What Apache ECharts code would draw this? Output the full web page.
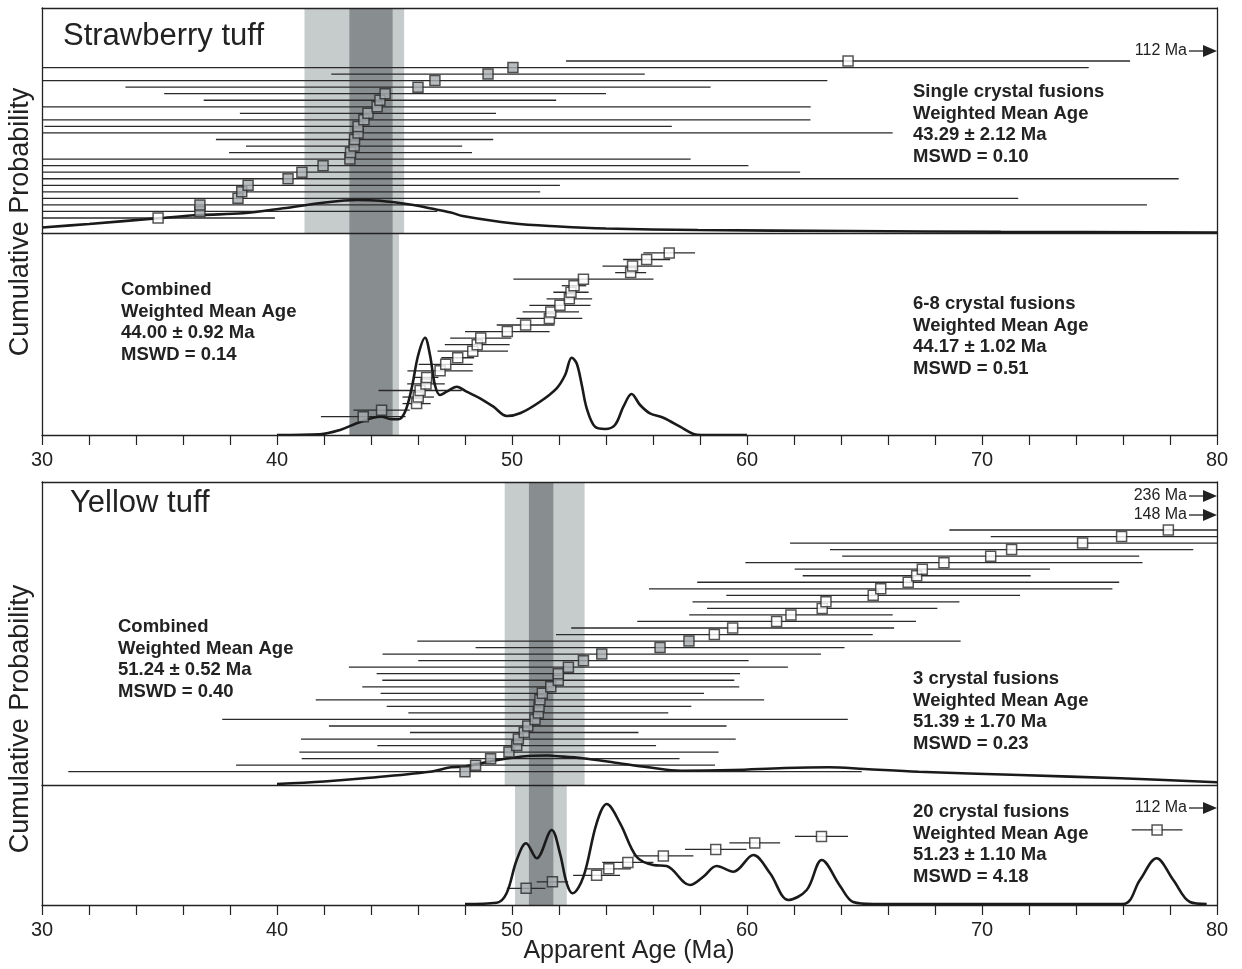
<!DOCTYPE html>
<html><head><meta charset="utf-8">
<script src="https://cdn.jsdelivr.net/npm/echarts/dist/echarts.min.js"></script>
<style>html,body{margin:0;padding:0;background:#fff}#c{width:1242px;height:969px}</style>
</head><body><div id="c"></div>
<script>
// ---------- DATA ----------
const ageTicks = [30, 40, 50, 60, 70, 80];

// Strawberry tuff – single crystal fusions (sorted youngest -> oldest)
const strawSingleAge = [34.94,36.72,36.72,38.34,38.50,38.77,40.47,41.06,41.96,43.10,43.13,43.28,43.30,43.45,43.45,43.70,43.87,44.26,44.38,44.60,46.00,46.72,48.98,50.04,64.30];
const strawSingleErr = [4.97,10.1,40.3,33.2,12.7,13.27,37.9,21.2,18.1,14.5,5.17,4.6,5.9,22.75,13.35,19.0,5.45,18.45,7.5,9.4,12.45,16.7,6.67,24.5,12.0];
const strawSingleIncl = [0,1,1,1,1,1,1,1,1,1,1,1,1,1,1,1,1,1,1,1,1,1,1,1,0];
const strawSingleProbAge = [30.0,32.0,34.94,36.72,38.55,40.26,41.96,43.4,44.38,45.8,46.5,47.4,47.9,50.0,52.0,54.0,57.9,64.4,70.8,80.0];
const strawSingleProb    = [5.5,9.0,14.7,18.0,19.7,24.7,30.3,33.0,32.3,28.0,24.7,20.5,17.0,9.7,6.5,4.5,3.0,2.0,1.2,0.5];

// Strawberry tuff – 6-8 crystal fusions
const strawMultiAge = [43.67,44.45,45.94,46.01,46.09,46.34,46.37,46.94,47.18,47.69,48.33,48.52,48.67,49.80,50.58,51.59,51.65,52.04,52.44,52.51,52.64,53.04,55.05,55.13,55.73,56.69];
const strawMultiErr = [1.8,1.2,0.6,0.67,1.77,0.8,0.5,1.39,1.15,0.7,1.5,1.38,1.3,1.8,1.23,1.4,1.2,1.3,0.97,0.75,0.52,2.98,0.66,1.28,1.0,1.1];
const strawMultiIncl = [1,1,0,0,0,0,0,0,0,0,0,0,0,0,0,0,0,0,0,0,0,0,0,0,0,0];
const strawMultiProbAge = [40.0,41.83,42.68,43.39,44.09,44.45,44.81,45.16,45.45,45.73,46.01,46.3,46.51,46.72,46.94,47.22,47.65,48.07,48.64,49.21,49.78,50.34,51.19,51.9,52.26,52.54,52.75,52.97,53.18,53.53,53.96,54.38,54.74,55.09,55.45,55.87,56.44,57.15,57.72,58.07,60.0];
const strawMultiProb    = [0,0.7,5,11.7,17.3,18.3,16,15.7,23.3,46.7,80,97.3,80,50,40,43.3,48.3,43.3,36.7,28.3,19,21.7,33.3,46.7,60,77.3,71.7,50,26.7,8.3,6,10,28.3,41,30,21.7,17.3,8.3,1,0,0];

// Yellow tuff – 3 crystal fusions
const yellowThreeAge = [48.00,48.45,49.09,49.87,50.20,50.27,50.52,50.67,50.98,51.12,51.15,51.19,51.29,51.65,51.97,51.97,52.40,53.04,53.82,56.30,57.53,58.61,59.39,61.26,61.87,63.20,63.36,65.37,65.69,66.86,67.22,67.46,68.38,70.37,71.26,74.28,75.94,77.93];
const yellowThreeErr = [16.88,10.19,8.04,8.92,5.93,9.25,4.86,8.46,13.31,5.53,6.48,9.54,6.88,8.02,7.49,7.73,9.34,7.03,9.33,7.85,11.56,6.74,6.87,5.93,4.33,4.9,5.68,6.25,9.86,8.98,4.85,5.43,8.45,6.32,7.73,12.45,5.57,9.32];
const yellowThreeIncl = [1,1,1,1,1,1,1,1,1,1,1,1,1,1,1,1,1,1,1,1,1,0,0,0,0,0,0,0,0,0,0,0,0,0,0,0,0,0];
const yellowThreeProbAge = [40.0,42.0,43.7,46.5,47.4,48.0,49.4,50.7,51.5,51.8,53.0,54.4,55.8,57.2,59.4,61.6,63.5,65.0,67.3,71.6,75.9,80.0];
const yellowThreeProb    = [1,3.5,6.7,13.3,17.7,18.5,25,29,29.5,29,26.7,22.3,17.7,14.3,15,17,17.7,16,13.3,10,6.7,2.7];

// Yellow tuff – 20 crystal fusions
const yellowTwentyAge = [50.60,51.72,53.60,54.12,54.93,56.44,58.67,60.33,63.17,77.45];
const yellowTwentyErr = [0.82,0.67,1.0,0.94,1.09,1.28,1.31,1.08,1.13,1.08];
const yellowTwentyIncl = [1,1,0,0,0,0,0,0,0,0];
const yellowTwentyProbAge = [48.0,49.35,49.77,50.2,50.6,51.05,51.69,52.04,52.33,52.58,53.04,53.6,54.03,54.6,55.3,56.01,56.58,57.57,58.14,58.71,59.42,60.27,60.98,61.76,62.54,63.18,63.96,64.52,65.36,76.0,76.72,77.43,78.14,78.85,79.56];
const yellowTwentyProb    = [1,2.3,11.7,45,61.7,46.7,75,51.7,21.7,11.7,28.3,81.7,101,81.7,48.3,40,39,20,28.3,39,33.3,50,31.7,5,15,45,19,3,1,1,25,46.7,25,3,1];

// Weighted mean ages [mean, 2σ]
const strawSingleWM = [43.29, 2.12];
const strawMultiWM  = [44.17, 1.02];
const strawCombWM   = [44.00, 0.92];
const yellowThreeWM  = [51.39, 1.70];
const yellowTwentyWM = [51.23, 1.10];
const yellowCombWM   = [51.24, 0.52];

const strawSingleText  = ['Single crystal fusions','Weighted Mean Age','43.29 ± 2.12 Ma','MSWD = 0.10'];
const strawCombText    = ['Combined','Weighted Mean Age','44.00 ± 0.92 Ma','MSWD = 0.14'];
const strawMultiText   = ['6-8 crystal fusions','Weighted Mean Age','44.17 ± 1.02 Ma','MSWD = 0.51'];
const yellowCombText   = ['Combined','Weighted Mean Age','51.24 ± 0.52 Ma','MSWD = 0.40'];
const yellowThreeText  = ['3 crystal fusions','Weighted Mean Age','51.39 ± 1.70 Ma','MSWD = 0.23'];
const yellowTwentyText = ['20 crystal fusions','Weighted Mean Age','51.23 ± 1.10 Ma','MSWD = 4.18'];
const offscaleLabels = ['112 Ma','236 Ma','148 Ma','112 Ma'];

// ---------- STYLE ----------
const FONT = "'Liberation Sans', Arial, Helvetica, sans-serif";
const INK = '#222';
const LIGHT = '#c6cbcc';
const DARK = '#888e90';
const GREY_SQ = '#a8adb0';
const XMIN = 30, XMAX = 80;

function bandSeries(xi, yi, bands) {
  return {
    type: 'custom', xAxisIndex: xi, yAxisIndex: yi, z: 1, silent: true,
    data: bands.map(b => [b[0] - b[1], b[0] + b[1], b[2]]),
    renderItem: function (params, api) {
      const cs = params.coordSys;
      const x1 = api.coord([api.value(0), 0])[0];
      const x2 = api.coord([api.value(1), 0])[0];
      return { type: 'rect', shape: { x: x1, y: cs.y, width: x2 - x1, height: cs.height },
               style: { fill: api.value(2) === 1 ? DARK : LIGHT } };
    }
  };
}
function errSeries(xi, yi, ages, errs) {
  return {
    type: 'custom', xAxisIndex: xi, yAxisIndex: yi, z: 2, silent: true,
    data: ages.map((a, i) => [a, errs[i], i + 1]),
    renderItem: function (params, api) {
      const a = api.value(0), e = api.value(1), r = api.value(2);
      const p1 = api.coord([Math.max(XMIN, a - e), r]);
      const p2 = api.coord([Math.min(XMAX, a + e), r]);
      return { type: 'line', shape: { x1: p1[0], y1: p1[1], x2: p2[0], y2: p2[1] },
               style: { stroke: '#2a2a2a', lineWidth: 1.3 } };
    }
  };
}
function curveSeries(xi, yi, ages, probs) {
  return {
    type: 'line', xAxisIndex: xi, yAxisIndex: yi, z: 3, silent: true,
    data: ages.map((a, i) => [a, probs[i]]),
    showSymbol: false, smooth: 0.35,
    lineStyle: { color: '#1a1a1a', width: 2.6 }
  };
}
function pointSeries(xi, yi, ages, incl) {
  return {
    type: 'scatter', xAxisIndex: xi, yAxisIndex: yi, z: 4, silent: true,
    symbol: 'rect', symbolSize: 10,
    data: ages.map((a, i) => ({ value: [a, i + 1],
      itemStyle: { color: incl[i] ? GREY_SQ : '#fff', borderColor: '#2a2a2a', borderWidth: 1.5 } }))
  };
}

const axLine = { show: true, onZero: false, lineStyle: { color: INK, width: 1.3 } };
function xAx(grid, pos, labels) {
  return {
    type: 'value', gridIndex: grid, position: pos, min: XMIN, max: XMAX, interval: 2, z: 10,
    axisLine: axLine, splitLine: { show: false },
    axisTick: { show: labels, length: 10, inside: false, lineStyle: { color: INK, width: 1.2 } },
    axisLabel: { show: labels, margin: 15, fontSize: 20, color: INK, fontFamily: FONT,
                 formatter: v => ageTicks.indexOf(v) >= 0 ? String(v) : '' }
  };
}
function yAx(grid, pos, min, max) {
  return { type: 'value', gridIndex: grid, position: pos, min: min, max: max, z: 10,
           axisLine: axLine, axisTick: { show: false }, axisLabel: { show: false }, splitLine: { show: false } };
}

function block(lines, x, y) {
  return { type: 'text', x: x, y: y, z: 100, silent: true,
    style: { text: lines.join('\n'), fill: INK, font: 'bold 18.5px ' + FONT, fontSize: 18.5, fontWeight: 'bold',
             fontFamily: FONT, lineHeight: 21.7, textAlign: 'left', textVerticalAlign: 'top', verticalAlign: 'top' } };
}
function plain(text, x, y, size, align, rot) {
  return { type: 'text', x: x, y: y, rotation: rot || 0, z: 100, silent: true,
    style: { text: text, fill: INK, font: size + 'px ' + FONT, fontSize: size, fontFamily: FONT,
             textAlign: align, align: align, textVerticalAlign: 'middle', verticalAlign: 'middle' } };
}
function arrowNote(text, y) {
  return [
    plain(text, 1187, y, 16, 'right'),
    { type: 'line', z: 100, silent: true, shape: { x1: 1189, y1: y, x2: 1205, y2: y }, style: { stroke: INK, lineWidth: 1.3 } },
    { type: 'polygon', z: 100, silent: true, shape: { points: [[1203, y - 6], [1217, y], [1203, y + 6]] }, style: { fill: INK } }
  ];
}

const option = {
  animation: false,
  backgroundColor: '#fff',
  grid: [
    { left: 42, right: 25, top: 8, height: 225 },
    { left: 42, right: 25, top: 233, height: 202 },
    { left: 42, right: 25, top: 482, height: 303 },
    { left: 42, right: 25, top: 785, height: 120 }
  ],
  xAxis: [ xAx(0, 'bottom', false), xAx(0, 'top', false), xAx(1, 'bottom', true),
           xAx(2, 'top', false), xAx(2, 'bottom', false), xAx(3, 'bottom', true) ],
  yAxis: [ yAx(0, 'left', -1.293, 33.1), yAx(0, 'right', 0, 225),
           yAx(1, 'left', -1.795, 29.05), yAx(1, 'right', 0, 202),
           yAx(2, 'left', -1.036, 45.35), yAx(2, 'right', 0, 303),
           yAx(3, 'left', -1.577, 16.94), yAx(3, 'right', 0, 120) ],
  series: [
    bandSeries(0, 0, [[strawSingleWM[0], strawSingleWM[1], 0], [strawCombWM[0], strawCombWM[1], 1]]),
    bandSeries(2, 2, [[strawMultiWM[0], strawMultiWM[1], 0], [strawCombWM[0], strawCombWM[1], 1]]),
    bandSeries(4, 4, [[yellowThreeWM[0], yellowThreeWM[1], 0], [yellowCombWM[0], yellowCombWM[1], 1]]),
    bandSeries(5, 6, [[yellowTwentyWM[0], yellowTwentyWM[1], 0], [yellowCombWM[0], yellowCombWM[1], 1]]),
    errSeries(0, 0, strawSingleAge, strawSingleErr),
    errSeries(2, 2, strawMultiAge, strawMultiErr),
    errSeries(4, 4, yellowThreeAge, yellowThreeErr),
    errSeries(5, 6, yellowTwentyAge, yellowTwentyErr),
    curveSeries(0, 1, strawSingleProbAge, strawSingleProb),
    curveSeries(2, 3, strawMultiProbAge, strawMultiProb),
    curveSeries(4, 5, yellowThreeProbAge, yellowThreeProb),
    curveSeries(5, 7, yellowTwentyProbAge, yellowTwentyProb),
    pointSeries(0, 0, strawSingleAge, strawSingleIncl),
    pointSeries(2, 2, strawMultiAge, strawMultiIncl),
    pointSeries(4, 4, yellowThreeAge, yellowThreeIncl),
    pointSeries(5, 6, yellowTwentyAge, yellowTwentyIncl)
  ],
  graphic: [].concat(
    [ plain('Strawberry tuff', 63, 36.5, 31, 'left'),
      plain('Yellow tuff', 70, 503, 31, 'left'),
      plain('Cumulative Probability', 21, 222, 27, 'center', Math.PI / 2),
      plain('Cumulative Probability', 21, 719, 27, 'center', Math.PI / 2),
      plain('Apparent Age (Ma)', 629, 951, 25, 'center'),
      block(strawSingleText, 913, 81),
      block(strawCombText, 121, 279),
      block(strawMultiText, 913, 293),
      block(yellowCombText, 118, 616),
      block(yellowThreeText, 913, 668),
      block(yellowTwentyText, 913, 801) ],
    arrowNote(offscaleLabels[0], 51),
    arrowNote(offscaleLabels[1], 496),
    arrowNote(offscaleLabels[2], 515),
    arrowNote(offscaleLabels[3], 808)
  )
};
const chart = echarts.init(document.getElementById('c'), null, { renderer: 'canvas' });
chart.setOption(option);
</script>
</body></html>
